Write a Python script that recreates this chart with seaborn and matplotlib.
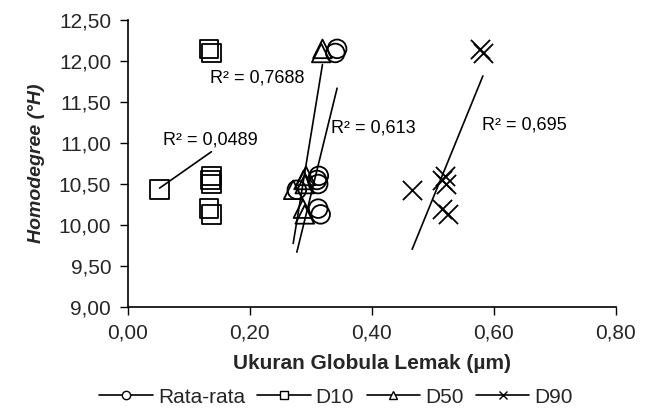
import matplotlib
matplotlib.use("Agg")
import matplotlib.pyplot as plt
import seaborn as sns
import numpy as np
import pandas as pd
from matplotlib.lines import Line2D

# Homodegree values (shared y for each series)
homodegree = [12.15, 12.10, 10.60, 10.55, 10.50, 10.43, 10.20, 10.13]

# Globule sizes (µm) per series
rata_rata = [0.343, 0.340, 0.313, 0.310, 0.312, 0.277, 0.312, 0.316]
d10 = [0.133, 0.137, 0.137, 0.135, 0.137, 0.052, 0.133, 0.137]
d50 = [0.319, 0.317, 0.292, 0.288, 0.290, 0.271, 0.287, 0.290]
d90 = [0.578, 0.582, 0.520, 0.515, 0.522, 0.466, 0.515, 0.525]

series_names = ["Rata-rata", "D10", "D50", "D90"]
r2_labels = ["R² = 0,613", "R² = 0,0489", "R² = 0,7688", "R² = 0,695"]
r2_pos = [(0.333, 11.19), (0.057, 11.04), (0.134, 11.80), (0.580, 11.22)]
markers = ["o", "s", "^", "x"]

x_ticks = [0.0, 0.2, 0.4, 0.6, 0.8]
y_ticks = [9.0, 9.5, 10.0, 10.5, 11.0, 11.5, 12.0, 12.5]

sns.set_theme(style="white")
plt.rcParams["font.family"] = ["Liberation Sans", "DejaVu Sans"]

df = pd.DataFrame({
    "x": rata_rata + d10 + d50 + d90,
    "y": homodegree * 4,
    "series": sum([[n] * len(homodegree) for n in series_names], []),
})

fig = plt.figure(figsize=(6.49, 4.12), dpi=100)
ax = fig.add_axes([0.197, 0.255, 0.752, 0.696])

for name, m in zip(series_names, markers):
    sub = df[df.series == name]
    if m == "x":
        sns.scatterplot(data=sub, x="x", y="y", marker=m, s=190, color="black",
                        linewidth=1.3, ax=ax, legend=False, zorder=3)
    else:
        sns.scatterplot(data=sub, x="x", y="y", marker=m, s=180, facecolor="none",
                        edgecolor="black", linewidth=1.3, ax=ax, legend=False, zorder=3)
    sns.regplot(data=sub, x="x", y="y", scatter=False, ci=None, truncate=True,
                color="black", line_kws={"linewidth": 1.2}, ax=ax)

for lab, (tx, ty) in zip(r2_labels, r2_pos):
    ax.text(tx, ty, lab, fontsize=13, va="center", ha="left", color="black")

ax.set_xlim(0, 0.8)
ax.set_ylim(9.0, 12.5)
ax.set_xticks(x_ticks)
ax.set_yticks(y_ticks)
ax.set_xticklabels([f"{v:.2f}".replace(".", ",") for v in x_ticks], fontsize=15)
ax.set_yticklabels([f"{v:.2f}".replace(".", ",") for v in y_ticks], fontsize=15)
ax.tick_params(axis="both", direction="out", length=6, width=1, color="black",
               bottom=True, left=True, pad=6)
for s in ["top", "right"]:
    ax.spines[s].set_visible(False)
for s in ["left", "bottom"]:
    ax.spines[s].set_color("black")
    ax.spines[s].set_linewidth(1.2)

ax.set_xlabel("Ukuran Globula Lemak (µm)", fontsize=15, fontweight="bold", labelpad=8)
ax.set_ylabel("Homodegree (°H)", fontsize=14, fontweight="bold", style="italic", labelpad=10)

handles = [Line2D([0], [0], color="black", lw=1.2, marker=m, markersize=6,
                  markerfacecolor="white", markeredgecolor="black", markeredgewidth=1.0)
           for m in markers]
fig.legend(handles, series_names, loc="center", bbox_to_anchor=(0.518, 0.036), ncol=4,
           frameon=False, fontsize=15, handlelength=2.55, handletextpad=0.25,
           columnspacing=0.6, borderpad=0)

fig.savefig("out.png", dpi=100)
